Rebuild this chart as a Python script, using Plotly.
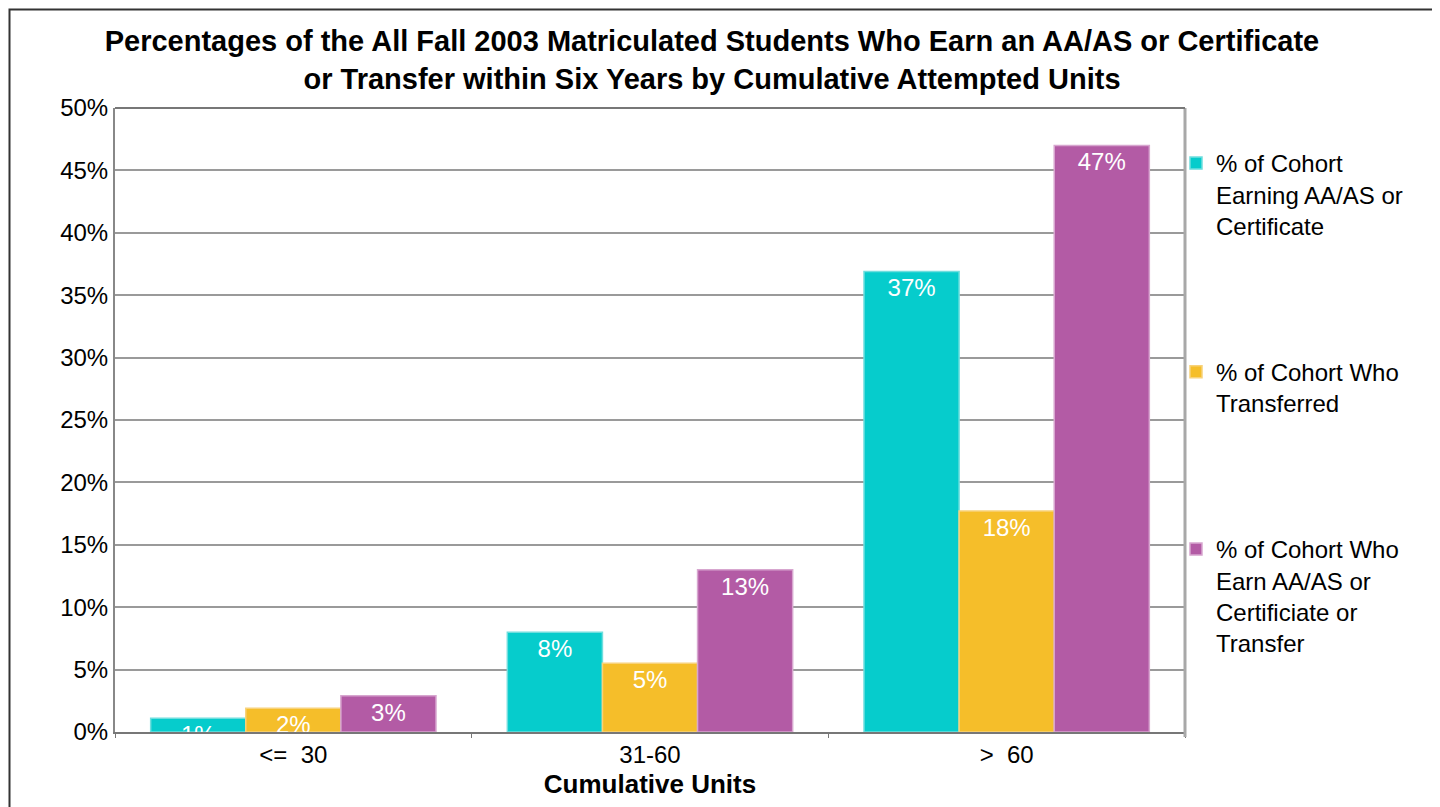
import plotly.graph_objects as go

categories = ["<=\u00a0\u00a030", "31-60", ">\u00a0\u00a060"]
earn_award = [1.1, 8.0, 36.9]
transferred = [1.9, 5.5, 17.7]
earn_or_transfer = [2.9, 13.0, 47.0]
labels_award = ["1%", "8%", "37%"]
labels_transfer = ["2%", "5%", "18%"]
labels_either = ["3%", "13%", "47%"]

series_names = [
    "% of Cohort<br>Earning AA/AS or<br>Certificate",
    "% of Cohort Who<br>Transferred",
    "% of Cohort Who<br>Earn AA/AS or<br>Certificiate or<br>Transfer",
]
colors = ["#06CCCC", "#F5BE2A", "#B35BA5"]
edge_colors = ["#6FDEDE", "#F8D27A", "#D7A6CF"]

OFF = 8  # page body margin
W, H = 1440, 807
# target screen pixel positions of the plot area
L_SCR, R_SCR, T_SCR, B_SCR = 115, 1185, 108, 732
ML = L_SCR - OFF
MT = T_SCR - OFF
MR = W + OFF - R_SCR
MB = H + OFF - B_SCR
PW, PH = W - ML - MR, H - MT - MB
FONT = "Liberation Sans, Arial"

fig = go.Figure()
for name, vals, labs, c, ec in zip(
    series_names,
    [earn_award, transferred, earn_or_transfer],
    [labels_award, labels_transfer, labels_either],
    colors, edge_colors,
):
    fig.add_trace(go.Bar(
        x=categories, y=vals, name=name, text=labs,
        textposition="inside", insidetextanchor="end", textangle=0,
        constraintext="none", cliponaxis=True,
        textfont=dict(color="white", size=24, family=FONT),
        marker=dict(color=c, line=dict(color=ec, width=1.5)),
        legendgroup=name,
    ))

def px_x(x):  # screen x -> paper
    return (x - L_SCR) / PW

def px_y(y):  # screen y -> paper
    return (B_SCR - y) / PH

fig.add_shape(type="rect", xref="paper", yref="paper",
              x0=px_x(9.5), x1=px_x(1436), y0=px_y(9.5), y1=px_y(840),
              line=dict(color="#333333", width=2), layer="below")

fig.update_layout(
    width=W, height=H,
    margin=dict(l=ML, r=MR, t=MT, b=MB),
    paper_bgcolor="white", plot_bgcolor="white",
    barmode="group", bargap=0.2, bargroupgap=0,
    font=dict(family=FONT, size=24, color="black"),
    title=dict(
        text="<b>Percentages of the All Fall 2003 Matriculated Students Who Earn an AA/AS or Certificate<br>or Transfer within Six Years by Cumulative Attempted Units</b>",
        x=px_x(712), xref="paper", xanchor="center",
        y=1 - (51 - OFF) / H, yanchor="middle",
        font=dict(size=29, family=FONT, color="black"),
    ),
    legend=dict(
        x=px_x(1176), xanchor="left", y=px_y(141), yanchor="top",
        font=dict(size=24, family=FONT, color="black"),
        tracegroupgap=112, itemwidth=30, bgcolor="rgba(0,0,0,0)",
        valign="top",
    ),
    xaxis=dict(
        showline=True, linecolor="#777777", linewidth=2, mirror=False,
        ticks="outside", tickson="boundaries", ticklen=4, tickcolor="#777777",
        tickfont=dict(size=24), showgrid=False,
        title=dict(text="<b>Cumulative Units</b>", font=dict(size=26), standoff=8),
    ),
    yaxis=dict(
        range=[0, 50], dtick=5, ticksuffix="%",
        showline=True, linecolor="#888888", linewidth=2, mirror=False,
        showgrid=True, gridcolor="#9A9A9A", gridwidth=1.5,
        ticks="", tickfont=dict(size=24), zeroline=False,
    ),
)
fig.add_shape(type="line", xref="paper", yref="paper", x0=1, x1=1, y0=px_y(737), y1=1,
              line=dict(color="#A8A8A8", width=3))
fig.add_shape(type="line", xref="paper", yref="paper", x0=0, x1=1, y0=1, y1=1,
              line=dict(color="#777777", width=2))

fig.write_html("out.html")
